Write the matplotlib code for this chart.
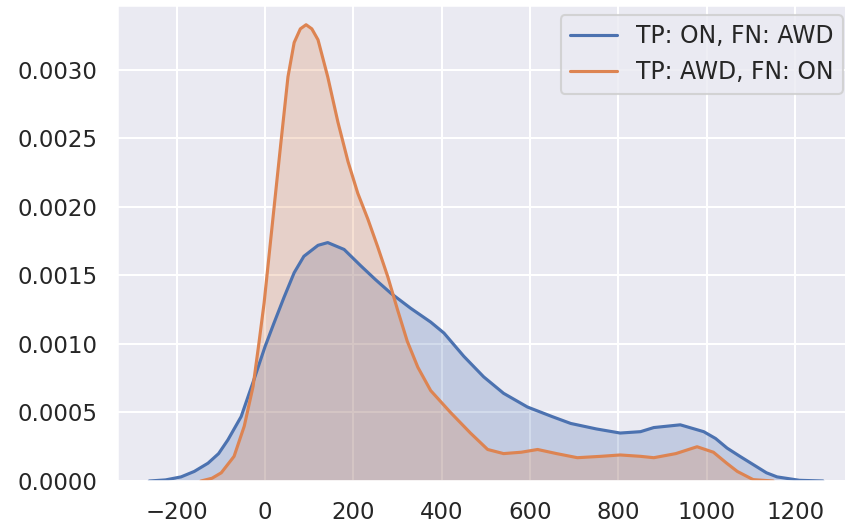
import matplotlib
matplotlib.use("Agg")
import matplotlib.pyplot as plt
import seaborn as sns

sns.set_theme(style="darkgrid", context="notebook")
plt.rcParams['font.family'] = ['DejaVu Sans']

labels = ["TP: ON, FN: AWD", "TP: AWD, FN: ON"]

blue_x = [-262, -225, -190, -160, -129, -105, -84, -54, -25, 0, 20, 43, 66, 88, 120,
          142, 179, 217, 250, 285, 330, 375, 405, 450, 495, 540, 594, 650, 692, 750,
          804, 850, 880, 940, 993, 1020, 1046, 1075, 1105, 1135, 1159, 1210, 1263]
blue_y = [0.0, 0.000008, 0.00003, 0.00007, 0.00013, 0.0002, 0.0003, 0.00047, 0.00074,
          0.00098, 0.00115, 0.00134, 0.00152, 0.00164, 0.00172, 0.00174, 0.00169,
          0.00157, 0.00147, 0.00137, 0.00126, 0.00116, 0.00108, 0.00091, 0.00076,
          0.00064, 0.00054, 0.00047, 0.00042, 0.00038, 0.00035, 0.00036, 0.00039,
          0.00041, 0.00036, 0.00031, 0.00024, 0.00018, 0.00012, 0.00006, 0.00003,
          0.000005, 0.0]

orange_x = [-145, -120, -99, -70, -47, -27, -14, -2, 20, 36, 52, 66, 80, 93, 106, 120,
            142, 165, 188, 210, 233, 255, 278, 300, 322, 346, 375, 420, 465, 504, 540,
            580, 617, 660, 707, 760, 804, 850, 880, 930, 978, 1015, 1045, 1069, 1105,
            1150]
orange_y = [0.0, 0.00002, 0.00006, 0.00018, 0.0004, 0.00069, 0.001, 0.0013, 0.00198,
            0.00247, 0.00295, 0.0032, 0.0033, 0.00333, 0.0033, 0.00322, 0.00295,
            0.00262, 0.00233, 0.0021, 0.00191, 0.00171, 0.00149, 0.00125, 0.00102,
            0.00083, 0.00066, 0.0005, 0.00035, 0.00023, 0.0002, 0.00021, 0.00023,
            0.0002, 0.00017, 0.00018, 0.00019, 0.00018, 0.00017, 0.0002, 0.00025,
            0.00021, 0.00013, 0.00007, 0.00001, 0.0]

colors = sns.color_palette("deep")

fig = plt.figure(figsize=(845 / 150, 530 / 150), dpi=150)
ax = fig.add_axes([117 / 845, 49 / 530, 740 / 845, 476 / 530])

for xs, ys, c, lab in [(blue_x, blue_y, colors[0], labels[0]),
                       (orange_x, orange_y, colors[1], labels[1])]:
    ax.fill_between(xs, ys, 0, color=c, alpha=0.25, linewidth=0)
    ax.plot(xs, ys, color=c, linewidth=1.5, label=lab)

ax.set_xlim(-335, 1340)
ax.set_ylim(0, 0.003474)
ax.set_xticks([-200, 0, 200, 400, 600, 800, 1000, 1200])
ax.set_yticks([0.0, 0.0005, 0.001, 0.0015, 0.002, 0.0025, 0.003])
ax.set_yticklabels(["0.0000", "0.0005", "0.0010", "0.0015", "0.0020", "0.0025", "0.0030"])
ax.legend(loc="upper right", bbox_to_anchor=(0.981, 0.979), borderaxespad=0,
          fontsize=11.3)

fig.savefig("out.png", dpi=150)
